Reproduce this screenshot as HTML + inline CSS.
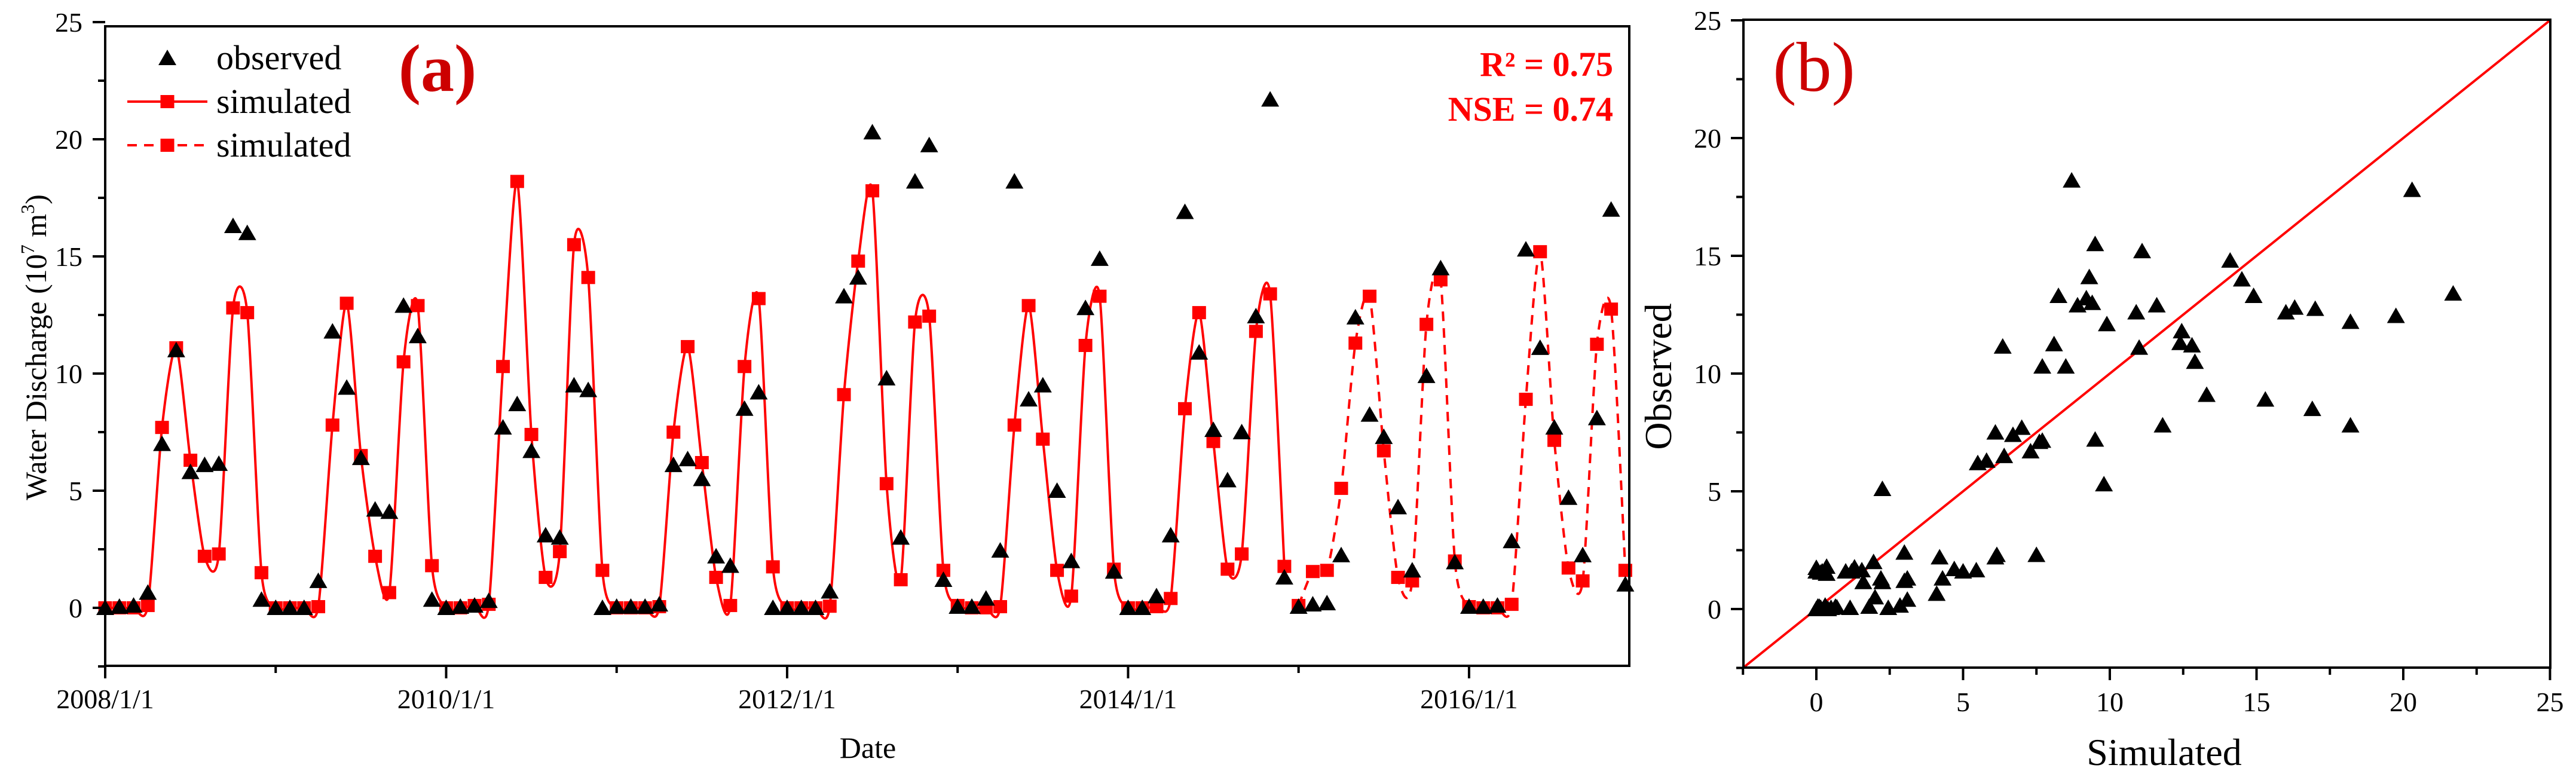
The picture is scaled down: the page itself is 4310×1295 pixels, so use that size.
<!DOCTYPE html>
<html><head><meta charset="utf-8">
<style>
html,body{margin:0;padding:0;background:#fff;}
svg{display:block;font-family:"Liberation Serif","Times New Roman",serif;}
text{font-family:"Liberation Serif","Times New Roman",serif;}
</style></head>
<body>
<svg id="chart" width="4310" height="1295" viewBox="0 0 4310 1295" xmlns="http://www.w3.org/2000/svg">
<rect x="0" y="0" width="4310" height="1295" fill="#fff"/>
<g id="panelA"></g>
<g id="panelB"></g>
</svg>
<script>
// ---- data (10^7 m^3), monthly from 2008/1 ----
const simulatedCalib = [0,0,0,0.1,7.7,11.1,6.3,2.2,2.3,12.8,12.6,1.5,
 0,0,0,0.05,7.8,13.0,6.5,2.2,0.65,10.5,12.9,1.8,
 0,0,0.1,0.15,10.3,18.2,7.4,1.3,2.4,15.5,14.1,1.6,
 0,0,0,0.05,7.5,11.15,6.2,1.3,0.1,10.3,13.2,1.75,
 0,0,0,0.07,9.1,14.8,17.8,5.3,1.2,12.2,12.45,1.6,
 0.1,0,0,0.05,7.8,12.9,7.2,1.6,0.5,11.2,13.3,1.65,
 0,0,0.05,0.4,8.5,12.6,7.1,1.65,2.3,11.8,13.4,1.77];
const simulatedValid = [0.1,1.55,1.6,5.1,11.3,13.3,6.7,1.3,1.15,12.1,14.0,2.0,
 0.05,0,0,0.15,8.9,15.2,7.15,1.7,1.15,11.25,12.75,1.6];
const observed = [0,0.05,0.1,0.65,7.0,11.0,5.8,6.1,6.15,16.3,16.0,0.35,
 0,0,0,1.15,11.8,9.4,6.4,4.2,4.1,12.9,11.6,0.35,
 0,0.05,0.1,0.3,7.7,8.7,6.7,3.1,3.0,9.5,9.3,0,
 0.05,0.05,0.05,0.15,6.1,6.35,5.5,2.2,1.8,8.5,9.2,0,
 0,0,0,0.7,13.3,14.1,20.3,9.8,3.0,18.2,19.75,1.2,
 0.05,0.05,0.4,2.45,18.2,8.9,9.5,5.0,2.0,12.8,14.9,1.55,
 0,0,0.5,3.1,16.9,10.9,7.6,5.45,7.5,12.45,21.7,1.3,
 0.05,0.15,0.2,2.25,12.4,8.25,7.3,4.3,1.6,9.9,14.5,1.95,
 0.05,0.05,0.1,2.85,15.3,11.1,7.7,4.7,2.25,8.1,17.0,1.0];
const xTickLabels = ["2008/1/1","2010/1/1","2012/1/1","2014/1/1","2016/1/1"];
const xTickMonths = [0,24,48,72,96];
const yTicksA = [0,5,10,15,20,25];
const ticksB = [0,5,10,15,20,25];

const NS="http://www.w3.org/2000/svg";
function mk(tag, attrs, parent){const e=document.createElementNS(NS,tag);for(const k in attrs)e.setAttribute(k,attrs[k]);parent.appendChild(e);return e;}

// ---- panel A scales ----
const A={l:176,r:2726,t:44,b:1114};
const xA=m=>176+m*23.77;
const yA=v=>1017-v*39.2;
const gA=document.getElementById('panelA');

function smoothPath(pts){
  let d=`M${pts[0][0]},${pts[0][1]}`;
  const k=8;
  for(let i=0;i<pts.length-1;i++){
    const p0=pts[Math.max(0,i-1)],p1=pts[i],p2=pts[i+1],p3=pts[Math.min(pts.length-1,i+2)];
    const c1x=p1[0]+(p2[0]-p0[0])/k,c1y=p1[1]+(p2[1]-p0[1])/k;
    const c2x=p2[0]-(p3[0]-p1[0])/k,c2y=p2[1]-(p3[1]-p1[1])/k;
    d+=` C${c1x.toFixed(1)},${c1y.toFixed(1)} ${c2x.toFixed(1)},${c2y.toFixed(1)} ${p2[0].toFixed(1)},${p2[1].toFixed(1)}`;
  }
  return d;
}
function tri(cx,cy,parent,name){
  const p=mk('polygon',{points:`${cx},${cy-14} ${cx+15},${cy+12} ${cx-15},${cy+12}`,fill:'#000'},parent);
  
  
  return p;
}
function sq(cx,cy,parent,name){
  const r=mk('rect',{x:cx-11.5,y:cy-11,width:23,height:22,fill:'#ff0000'},parent);
  
  
  return r;
}

const defs=mk('defs',{},gA);
const cp=mk('clipPath',{id:'clipA'},defs);
mk('rect',{x:A.l,y:A.t,width:A.r-A.l,height:A.b-A.t},cp);

const ptsC=simulatedCalib.map((v,i)=>[xA(i),yA(v)]);
const ptsV=simulatedValid.map((v,i)=>[xA(i+simulatedCalib.length),yA(v)]);
const lineC=mk('path',{d:smoothPath(ptsC),fill:'none',stroke:'#ff0000','stroke-width':4,'clip-path':'url(#clipA)'},gA);


const lineV=mk('path',{d:smoothPath(ptsV),fill:'none',stroke:'#ff0000','stroke-width':4,'stroke-dasharray':'16 12','clip-path':'url(#clipA)'},gA);


ptsC.forEach(p=>sq(p[0],p[1],gA,'simulated-point'));
ptsV.forEach(p=>sq(p[0],p[1],gA,'simulated-validation-point'));
observed.forEach((v,i)=>tri(xA(i),yA(v),gA,'observed-point'));

const fa=mk('rect',{x:A.l,y:A.t,width:A.r-A.l,height:A.b-A.t,fill:'none',stroke:'#000','stroke-width':4},gA);


for(let v=-2.5;v<=25;v+=2.5){
  const major=(v%5===0);
  mk('line',{x1:A.l,x2:A.l-(major?21:12),y1:yA(v),y2:yA(v),stroke:'#000','stroke-width':4},gA);
}
yTicksA.forEach(v=>{
  const t=mk('text',{x:138,y:yA(v)+16,'font-size':46,'text-anchor':'end',fill:'#000'},gA);
  t.textContent=String(v);
  
  
});
for(let m=0;m<=107;m+=12){
  const major=(m%24===0);
  mk('line',{x1:xA(m),x2:xA(m),y1:A.b,y2:A.b+(major?21:12),stroke:'#000','stroke-width':4},gA);
}
xTickMonths.forEach((m,i)=>{
  const t=mk('text',{x:xA(m),y:1185,'font-size':46,'text-anchor':'middle',fill:'#000'},gA);
  t.textContent=xTickLabels[i];
  
  
});

// ---- panel B ----
const B={l:2917,r:4267,t:33,b:1117};
const xB=v=>3039+v*49.1;
const yB=v=>1019-v*39.4;
const gB=document.getElementById('panelB');
const diag=mk('line',{x1:xB(-2.5),y1:yB(-2.5),x2:xB(25),y2:yB(25),stroke:'#ff0000','stroke-width':4},gB);


const simAll=simulatedCalib.concat(simulatedValid);
observed.forEach((o,i)=>tri(xB(o),yB(simAll[i]),gB,'scatter-point'));
const fb=mk('rect',{x:B.l,y:B.t,width:B.r-B.l,height:B.b-B.t,fill:'none',stroke:'#000','stroke-width':4},gB);


for(let v=-2.5;v<=25;v+=2.5){
  const major=(v%5===0);
  mk('line',{x1:B.l,x2:B.l-(major?21:12),y1:yB(v),y2:yB(v),stroke:'#000','stroke-width':4},gB);
  mk('line',{x1:xB(v),x2:xB(v),y1:B.b,y2:B.b+(major?21:12),stroke:'#000','stroke-width':4},gB);
}
ticksB.forEach(v=>{
  const t=mk('text',{x:2880,y:yB(v)+16,'font-size':46,'text-anchor':'end',fill:'#000'},gB);
  t.textContent=String(v);
  
  
  const u=mk('text',{x:xB(v),y:1190,'font-size':46,'text-anchor':'middle',fill:'#000'},gB);
  u.textContent=String(v);
  
  
});
</script>
<svg style="position:absolute;left:0;top:0" width="4310" height="1295" xmlns="http://www.w3.org/2000/svg">
  <text x="60" y="581" font-size="50" text-anchor="middle" transform="rotate(-90 60 581)" dy="17">Water Discharge (10<tspan font-size="32" dy="-20">7</tspan><tspan dy="20"> m</tspan><tspan font-size="32" dy="-20">3</tspan><tspan dy="20">)</tspan></text>
  <text x="1452" y="1268" font-size="50" text-anchor="middle">Date</text>
  <g>
    <polygon points="280,83 295,109 265,109" fill="#000"/>
    <text x="362" y="116" font-size="58">observed</text>
    <line x1="213" y1="170" x2="347" y2="170" stroke="#ff0000" stroke-width="4"/>
    <rect x="268.5" y="159" width="23" height="22" fill="#ff0000"/>
    <text x="362" y="189" font-size="58">simulated</text>
    <line x1="213" y1="243" x2="347" y2="243" stroke="#ff0000" stroke-width="4" stroke-dasharray="16 12"/>
    <rect x="268.5" y="232" width="23" height="22" fill="#ff0000"/>
    <text x="362" y="262" font-size="58">simulated</text>
  </g>
  <text x="732" y="152" font-size="112" font-weight="bold" fill="#cc0000" text-anchor="middle">(a)</text>
  <text x="2699" y="127" font-size="58" font-weight="bold" fill="#ff0000" text-anchor="end">R² = 0.75</text>
  <text x="2699" y="202" font-size="58" font-weight="bold" fill="#ff0000" text-anchor="end">NSE = 0.74</text>
  <text x="3035" y="152" font-size="118" fill="#cc0000" text-anchor="middle">(b)</text>
  <text x="3621" y="1280" font-size="64" text-anchor="middle">Simulated</text>
  <text x="2796" y="630" font-size="64" text-anchor="middle" transform="rotate(-90 2796 630)">Observed</text>
</svg>
</body></html>
